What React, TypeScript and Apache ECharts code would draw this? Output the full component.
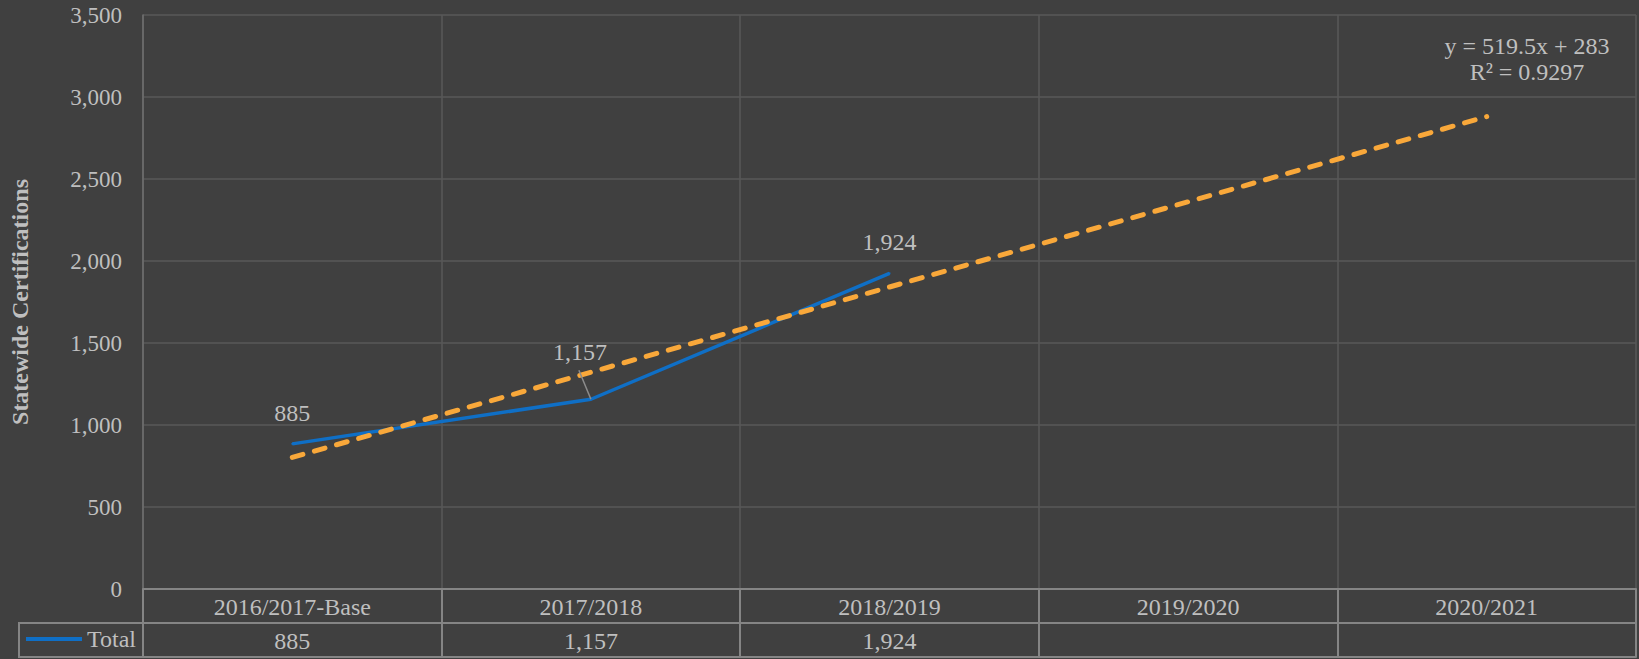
import React, { useEffect, useRef } from "react";
import * as echarts from "echarts";

const categories = ["2016/2017-Base", "2017/2018", "2018/2019", "2019/2020", "2020/2021"];
const totals: (number | null)[] = [885, 1157, 1924, null, null];
const trendValues = [802.5, 1322, 1841.5, 2361, 2880.5];
const yTicks = { min: 0, max: 3500, interval: 500 };
const trendSlope = 519.5;
const trendIntercept = 283;
const trendR2 = 0.9297;
const seriesName = "Total";
const yAxisTitle = "Statewide Certifications";

const FONT = "Liberation Serif";
const TEXT = "#bfbfbf";
const BG = "#404040";
const GRID = "#595959";
const TABLE = "#858585";
const BLUE = "#0f6fc6";
const ORANGE = "#f9a83a";

const fmt = (v: number | null) => (v == null ? "" : v.toLocaleString("en-US"));

export default function App() {
  const ref = useRef<HTMLDivElement>(null);
  useEffect(() => {
    if (!ref.current) return;
    const chart = echarts.init(ref.current, null, { renderer: "svg" });
    const option: any = {
      animation: false,
      backgroundColor: BG,
      textStyle: { fontFamily: FONT, color: TEXT },
      grid: { left: 143, right: 3, top: 15, bottom: 70 },
      legend: {
        data: [seriesName],
        left: 26,
        top: 627,
        padding: 0,
        icon: "rect",
        itemWidth: 56,
        itemHeight: 4,
        itemGap: 5,
        textStyle: { fontFamily: FONT, fontSize: 24, color: TEXT },
      },
      xAxis: [
        {
          type: "category",
          data: categories,
          position: "bottom",
          boundaryGap: true,
          axisLine: { show: true, lineStyle: { color: TABLE, width: 2 } },
          axisTick: { show: true, length: 68, interval: 0, lineStyle: { color: TABLE, width: 2 } },
          axisLabel: { fontFamily: FONT, fontSize: 24, color: TEXT, margin: 6, interval: 0 },
          splitLine: { show: true, interval: 0, lineStyle: { color: GRID, width: 1.5 } },
        },
        {
          type: "category",
          data: totals.map(fmt),
          position: "bottom",
          offset: 34,
          axisLine: { show: true, lineStyle: { color: TABLE, width: 2 } },
          axisTick: { show: false },
          axisLabel: { fontFamily: FONT, fontSize: 24, color: TEXT, margin: 6, interval: 0 },
          splitLine: { show: false },
        },
        {
          type: "category",
          data: categories,
          position: "bottom",
          offset: 68,
          axisLine: { show: true, lineStyle: { color: TABLE, width: 2 } },
          axisTick: { show: false },
          axisLabel: { show: false },
          splitLine: { show: false },
        },
      ],
      yAxis: {
        type: "value",
        min: yTicks.min,
        max: yTicks.max,
        interval: yTicks.interval,
        name: yAxisTitle,
        nameLocation: "middle",
        nameGap: 111,
        nameRotate: 90,
        nameTextStyle: { fontFamily: FONT, fontSize: 24, fontWeight: "bold", color: TEXT },
        axisLine: { show: true, lineStyle: { color: "#707070", width: 1.5 } },
        axisTick: { show: false },
        axisLabel: {
          fontFamily: FONT,
          fontSize: 23,
          color: TEXT,
          margin: 21,
          formatter: (v: number) => v.toLocaleString("en-US"),
        },
        splitLine: { show: true, lineStyle: { color: GRID, width: 1.5 } },
      },
      series: [
        {
          name: seriesName,
          type: "line",
          data: totals.map((v, i) =>
            i === 1 && v != null
              ? { value: v, label: { offset: [-11, -16] } }
              : v
          ),
          color: BLUE,
          lineStyle: { color: BLUE, width: 3.5 },
          symbol: "circle",
          symbolSize: 2,
          itemStyle: { color: BLUE },
          label: {
            show: true,
            position: "top",
            distance: 18,
            fontFamily: FONT,
            fontSize: 24,
            color: TEXT,
            formatter: (p: any) => fmt(p.value as number),
          },
          z: 3,
        },
        {
          name: "trend",
          type: "line",
          data: trendValues,
          showSymbol: false,
          symbol: "none",
          lineStyle: { color: ORANGE, width: 5, type: [11, 12], cap: "round" },
          z: 4,
        },
      ],
      graphic: [
        {
          type: "text",
          x: 1527,
          y: 33,
          style: {
            text: `y = ${trendSlope}x + ${trendIntercept}\nR² = ${trendR2}`,
            fontFamily: FONT,
            fontSize: 24,
            lineHeight: 26,
            fill: TEXT,
            align: "center",
          },
        },
        { type: "line", shape: { x1: 19, y1: 623, x2: 143, y2: 623 }, style: { stroke: TABLE, lineWidth: 2 } },
        { type: "line", shape: { x1: 19, y1: 657, x2: 143, y2: 657 }, style: { stroke: TABLE, lineWidth: 2 } },
        { type: "line", shape: { x1: 19, y1: 622, x2: 19, y2: 658 }, style: { stroke: TABLE, lineWidth: 2 } },
      ],
    };
    chart.setOption(option);
    const p = chart.convertToPixel({ seriesIndex: 0 }, [1, totals[1] as number]) as number[];
    if (p) {
      chart.setOption({
        graphic: [
          ...option.graphic,
          {
            type: "line",
            shape: { x1: p[0], y1: p[1], x2: p[0] - 12, y2: p[1] - 29 },
            style: { stroke: "#8c8c8c", lineWidth: 1.5 },
            z: 10,
          },
        ],
      });
    }
    return () => chart.dispose();
  }, []);
  return (
    <div
      ref={ref}
      style={{ position: "fixed", left: 0, top: 0, width: 1639, height: 659 }}
    />
  );
}
